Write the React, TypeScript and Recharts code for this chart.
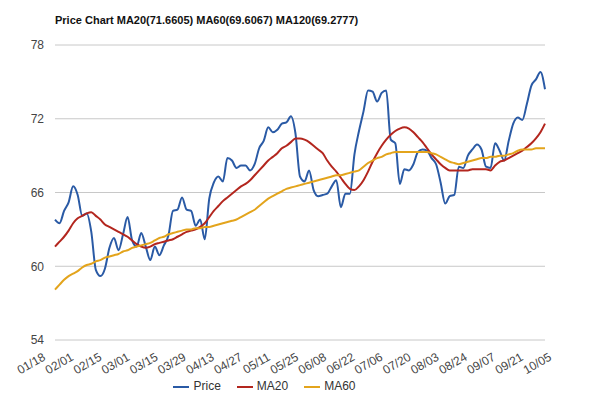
import { LineChart, Line, XAxis, YAxis, CartesianGrid, Legend } from 'recharts';

const tickLabels = [
  '01/18', '02/01', '02/15', '03/01', '03/15', '03/29', '04/13', '04/27', '05/11', '05/25',
  '06/08', '06/22', '07/06', '07/20', '08/03', '08/24', '09/07', '09/21', '10/05',
];

const price = [
  63.8, 63.5, 64.5, 65.2, 66.5, 65.8, 64.1, 64.3, 62.8, 59.7,
  59.2, 59.8, 61.5, 62.3, 61.3, 62.6, 64.0, 62.1, 61.6, 62.7,
  61.6, 60.5, 61.6, 60.9, 61.7, 62.5, 64.5, 64.6, 65.6, 64.6,
  64.5, 63.3, 63.8, 62.2, 65.5, 66.8, 67.3, 66.9, 68.8, 68.6,
  68.0, 68.2, 68.2, 67.8, 68.3, 69.6, 70.2, 71.3, 70.9, 71.1,
  71.6, 71.7, 72.2, 70.8, 67.3, 66.9, 67.8, 66.2, 65.7, 65.8,
  65.9, 66.5, 67.0, 64.8, 65.9, 65.9, 69.1, 71.0, 72.6, 74.3,
  74.2, 73.4, 74.1, 74.3, 70.3, 70.0, 66.7, 67.9, 67.8, 68.3,
  69.3, 69.5, 69.4, 68.8, 68.3, 66.8, 65.1, 65.7, 65.8, 68.1,
  68.0, 69.0, 69.5, 69.9, 69.5, 68.1, 68.0, 70.0, 69.4, 68.6,
  70.2, 71.6, 72.1, 71.9, 73.2, 74.7, 75.2, 75.8, 74.4,
];

const ma20 = [
  61.6, 62.0, 62.4, 62.9, 63.5, 63.9, 64.1, 64.3, 64.4, 64.1,
  63.8, 63.4, 63.2, 63.0, 62.8, 62.6, 62.4, 62.1, 61.8, 61.6,
  61.5, 61.6, 61.8, 61.9, 62.0, 62.1, 62.2, 62.4, 62.6, 62.8,
  62.9, 63.0, 63.2, 63.5, 64.0, 64.5, 64.9, 65.3, 65.6, 65.9,
  66.2, 66.5, 66.7, 67.0, 67.4, 67.8, 68.2, 68.6, 68.9, 69.2,
  69.6, 69.8, 70.1, 70.4, 70.4, 70.3, 70.1, 69.8, 69.5, 69.2,
  68.6, 68.1, 67.7, 67.2, 66.7, 66.3, 66.2, 66.5, 67.0, 67.7,
  68.5, 69.2, 69.8, 70.3, 70.7, 71.0, 71.2, 71.3, 71.2, 70.9,
  70.5, 70.1, 69.6, 69.1, 68.7, 68.3, 68.0, 67.8, 67.8, 67.8,
  67.8, 67.8, 67.9, 67.9, 67.9, 67.9, 67.8, 68.2, 68.5, 68.6,
  68.8, 69.0, 69.2, 69.4, 69.7, 70.0, 70.4, 70.9, 71.6,
];

const ma60 = [
  58.1, 58.5, 58.9, 59.2, 59.4, 59.6, 59.9, 60.1, 60.2, 60.4,
  60.5, 60.7, 60.8, 60.9, 61.0, 61.2, 61.3, 61.5, 61.6, 61.7,
  61.8, 61.9, 62.1, 62.3, 62.4, 62.6, 62.7, 62.8, 62.9, 63.0,
  63.0, 63.1, 63.1, 63.2, 63.2, 63.3, 63.4, 63.5, 63.6, 63.7,
  63.8, 64.0, 64.2, 64.4, 64.6, 64.9, 65.2, 65.5, 65.7, 65.9,
  66.1, 66.3, 66.4, 66.5, 66.6, 66.7, 66.8, 66.9, 67.0, 67.1,
  67.2, 67.3, 67.4, 67.4, 67.5, 67.6, 67.7, 67.8, 68.1, 68.4,
  68.6, 68.8, 68.9, 69.1, 69.2, 69.3, 69.3, 69.3, 69.3, 69.3,
  69.3, 69.3, 69.3, 69.2, 69.1, 68.9, 68.7, 68.5, 68.4, 68.3,
  68.4, 68.5, 68.6, 68.7, 68.8, 68.8, 68.9, 68.9, 69.0, 69.0,
  69.1, 69.2, 69.4, 69.5, 69.5, 69.5, 69.6, 69.6, 69.6,
];

const seriesOrder = ['Price', 'MA20', 'MA60'];

const tickIdx = tickLabels.map((_, i) => i * 6);

const data = price.map((p, i) => ({ idx: i, price: p, ma20: ma20[i], ma60: ma60[i] }));

const font = 'Arial, "Liberation Sans", sans-serif';

// angled date labels, spread a little wider than the data ticks like the original
const DateTick = ({ x, y, index }: any) => {
  const lx = x - 13 + (index * 16) / 18;
  const ly = y + 4;
  return (
    <text x={lx} y={ly} textAnchor="end" fontSize={12} fill="#444" fontFamily={font} transform={`rotate(-30, ${lx}, ${ly})`} dy="0.71em">
      {tickLabels[index]}
    </text>
  );
};

const App = () => {
  return (
    <div style={{ position: 'absolute', left: 0, top: 0, width: 600, height: 396, background: '#fff', fontFamily: font }}>
      <div style={{ position: 'absolute', left: 55, top: 14, fontSize: 11, fontWeight: 'bold', color: '#111', whiteSpace: 'nowrap' }}>
        Price Chart MA20(71.6605) MA60(69.6067) MA120(69.2777)
      </div>
      <LineChart width={600} height={396} data={data} margin={{ top: 45, right: 55, left: 0, bottom: 0 }}>
        <CartesianGrid vertical={false} stroke="#c8c8c8" />
        <XAxis
          dataKey="idx"
          type="number"
          domain={[0, 108]}
          ticks={tickIdx}
          interval={0}
          height={30}
          axisLine={false}
          tickLine={false}
          tick={<DateTick />}
        />
        <YAxis
          domain={[54, 78]}
          ticks={[54, 60, 66, 72, 78]}
          width={55}
          axisLine={false}
          tickLine={false}
          tickSize={0}
          tickMargin={11}
          tick={{ fontSize: 12, fill: '#444', fontFamily: font }}
        />
        <Legend
          verticalAlign="bottom"
          iconType="plainline"
          iconSize={16}
          itemSorter={(item: any) => seriesOrder.indexOf(item.value)}
          wrapperStyle={{ height: 26, boxSizing: 'border-box', paddingTop: 9, fontSize: 12, fontFamily: font }}
          formatter={(value) => <span style={{ color: '#333', marginRight: 6 }}>{value}</span>}
        />
        <Line type="monotone" dataKey="price" name="Price" stroke="#2a5aa5" strokeWidth={2} dot={false} isAnimationActive={false} />
        <Line type="monotone" dataKey="ma20" name="MA20" stroke="#b3261e" strokeWidth={2} dot={false} isAnimationActive={false} />
        <Line type="monotone" dataKey="ma60" name="MA60" stroke="#e3a41c" strokeWidth={2} dot={false} isAnimationActive={false} />
      </LineChart>
    </div>
  );
};

export default App;
